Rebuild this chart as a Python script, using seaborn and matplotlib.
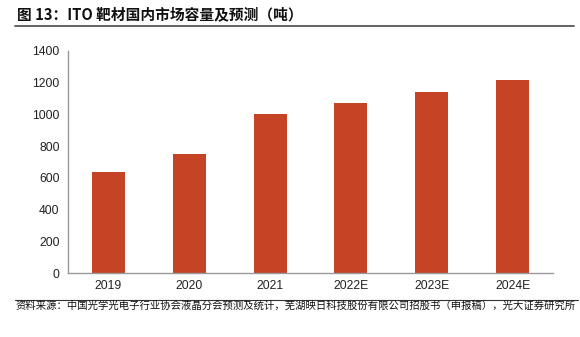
import matplotlib
matplotlib.use("Agg")
import matplotlib.pyplot as plt
import seaborn as sns
import pandas as pd
from matplotlib.lines import Line2D

categories = ["2019", "2020", "2021", "2022E", "2023E", "2024E"]
values = [640, 748, 1002, 1068, 1140, 1215]
yticks = [0, 200, 400, 600, 800, 1000, 1200, 1400]
title = "图 13：ITO 靶材国内市场容量及预测（吨）"
source = "资料来源：中国光学光电子行业协会液晶分会预测及统计，芜湖映日科技股份有限公司招股书（申报稿），光大证券研究所"

sns.set_theme(style="white")
plt.rcParams['font.family'] = ['Liberation Sans', 'Noto Sans CJK SC', 'DejaVu Sans']

df = pd.DataFrame({"year": categories, "value": values})

fig = plt.figure(figsize=(5.8, 3.37), dpi=100)
ax = fig.add_axes([68/580, 1-273.3/337, (553-68)/580, (273.3-50.7)/337])
sns.barplot(data=df, x="year", y="value", color="#C54425", saturation=1,
            width=0.41, ax=ax, edgecolor="none")

ax.set_ylim(0, 1400)
ax.set_xlim(-0.5, len(categories) - 0.5)
ax.set_yticks(yticks)
ax.set_yticklabels([str(t) for t in yticks], fontsize=8.7, color="#222222")
ax.set_xlabel("")
ax.set_ylabel("")
ax.tick_params(axis="x", which="major", length=0, labelsize=8.7, labelcolor="#222222", pad=5)
ax.set_xticks([i - 0.5 for i in range(1, len(categories))], minor=True)
ax.tick_params(axis="x", which="minor", direction="in", length=3, color="#999999", width=0.8)
ax.tick_params(axis="y", direction="in", length=3, color="#999999", width=0.8, pad=6)
for s in ["top", "right"]:
    ax.spines[s].set_visible(False)
for s in ["left", "bottom"]:
    ax.spines[s].set_color("#999999")
    ax.spines[s].set_linewidth(1.0)

fig.text(17/580, 1-14/337, title, fontsize=10.6, fontweight="bold", va="center", ha="left",
         family=['Noto Sans CJK SC', 'DejaVu Sans'], color="#111111")
fig.add_artist(Line2D([15/580, 574/580], [1-25.5/337, 1-25.5/337], color="#555555", lw=1.3))
fig.add_artist(Line2D([15/580, 578/580], [1-299.5/337, 1-299.5/337], color="#333333", lw=0.8))
fig.text(15/580, 1-306/337, source, fontsize=7.45, va="center", ha="left",
         family=['Noto Sans CJK SC', 'DejaVu Sans'], color="#111111")

fig.savefig("out.png", dpi=100)
